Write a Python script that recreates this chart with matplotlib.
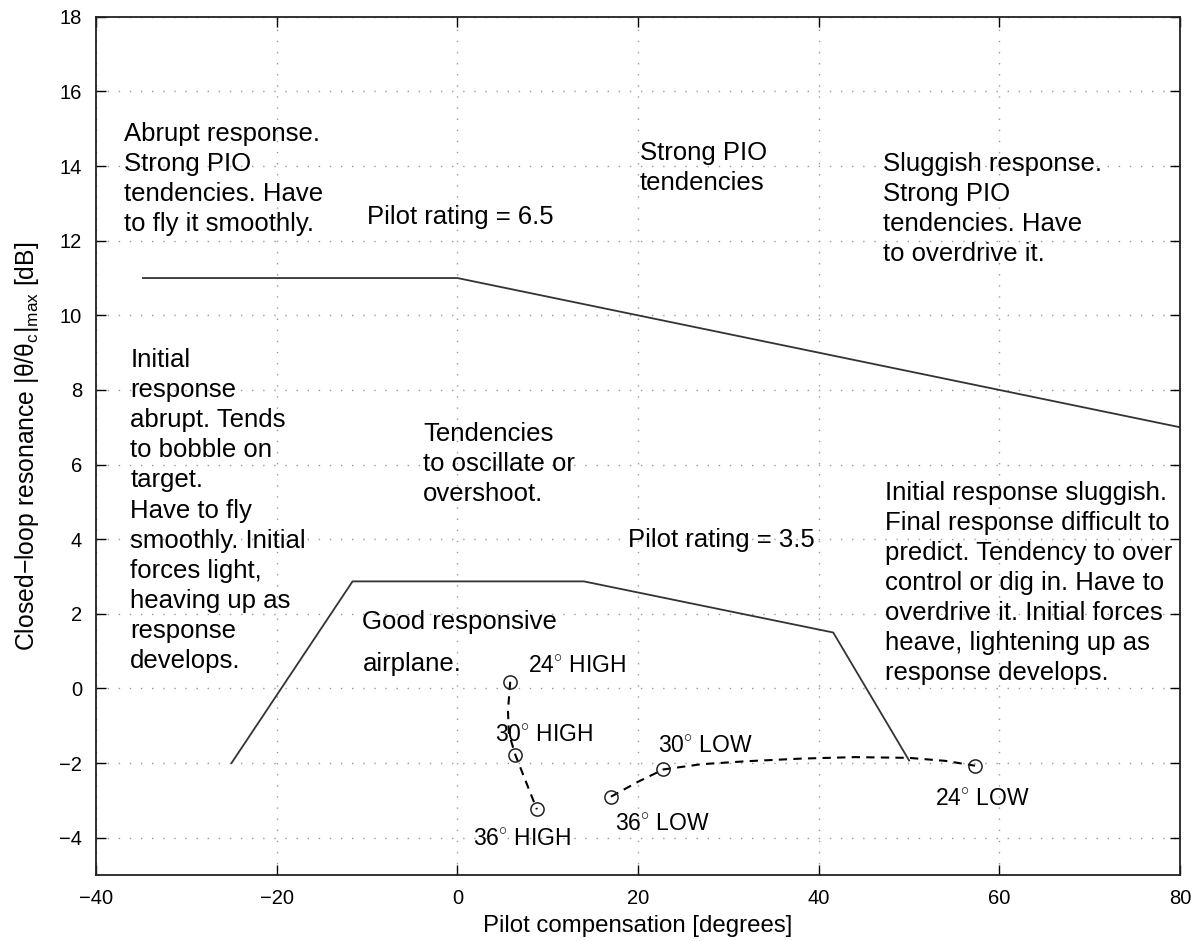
import matplotlib
matplotlib.use("Agg")
import matplotlib.pyplot as plt

plt.rcParams['font.family'] = ['Liberation Sans', 'DejaVu Sans']
plt.rcParams['mathtext.fontset'] = 'custom'
plt.rcParams['mathtext.rm'] = 'Liberation Sans'
plt.rcParams['mathtext.it'] = 'Liberation Sans:italic'

# boundary lines
pr65_x = [-34.8, 0, 80]
pr65_y = [11, 11, 7]
pr35_x = [-25, -11.6, 14, 41.6, 50]
pr35_y = [-2, 2.87, 2.87, 1.5, -1.93]

# configurations (circles)
high_names = ['24', '30', '36']
high_x = [5.85, 6.4, 8.8]
high_y = [0.18, -1.77, -3.24]
low_names = ['36', '30', '24']
low_x = [17.0, 22.8, 57.3]
low_y = [-2.9, -2.17, -2.07]

# dashed trend curves
high_curve_x = [5.85, 5.6, 5.7, 6.4, 8.8]
high_curve_y = [0.18, -0.6, -1.2, -1.77, -3.24]
low_curve_x = [17.0, 20.0, 22.8, 27.0, 32.0, 38.0, 44.0, 50.0, 54.0, 57.3]
low_curve_y = [-2.9, -2.5, -2.17, -2.03, -1.95, -1.88, -1.84, -1.86, -1.94, -2.07]

fig = plt.figure(figsize=(12.04, 9.41), dpi=100)
ax = fig.add_axes([0.0797, 0.0701, 0.9005, 0.912])

ax.plot(pr65_x, pr65_y, color='#333333', lw=1.3)
ax.plot(pr35_x, pr35_y, color='#333333', lw=1.3)
ax.plot(high_curve_x, high_curve_y, color='black', lw=1.5, ls=(0, (4, 3)))
ax.plot(low_curve_x, low_curve_y, color='black', lw=1.5, ls=(0, (4, 3)))
ax.plot(high_x, high_y, 'o', ms=9.5, mfc='none', mec='#222222', mew=1.1)
ax.plot(low_x, low_y, 'o', ms=9.5, mfc='none', mec='#222222', mew=1.1)

ax.set_xlim(-40, 80)
ax.set_ylim(-5, 18)
ax.set_xticks(range(-40, 81, 20))
ax.set_yticks(range(-4, 19, 2))
ax.grid(True, color='#999999', ls=(0, (1, 7)), lw=1)
ax.tick_params(direction='in', length=7, width=1, labelsize=14.5,
               top=True, right=True, pad=10)
for s in ax.spines.values():
    s.set_linewidth(1.3)
    s.set_color('#222222')

ax.set_xlabel('Pilot compensation [degrees]', fontsize=17.3, labelpad=5)
ax.set_ylabel(r'Closed$-$loop resonance |θ/θ$_{\rm c}$|$_{\rm max}$ [dB]',
              fontsize=17.8)
ax.yaxis.set_label_coords(-0.051, 0.5)

# multi-line notes: y is the baseline of the last line
fs = 18.5
txt = dict(fontsize=fs, linespacing=1.32, ha='left', va='baseline')
ax.text(-36.9, 12.26, 'Abrupt response.\nStrong PIO\ntendencies. Have\nto fly it smoothly.', **txt)
ax.text(20.2, 13.35, 'Strong PIO\ntendencies', **txt)
ax.text(47.1, 11.45, 'Sluggish response.\nStrong PIO\ntendencies. Have\nto overdrive it.', **txt)
ax.text(-10.0, 12.45, 'Pilot rating = 6.5', **txt)
ax.text(-36.2, 0.55, 'Initial\nresponse\nabrupt. Tends\nto bobble on\ntarget.\nHave to fly\n'
        'smoothly. Initial\nforces light,\nheaving up as\nresponse\ndevelops.', **txt)
ax.text(-3.8, 5.03, 'Tendencies\nto oscillate or\novershoot.', **txt)
ax.text(18.9, 3.79, 'Pilot rating = 3.5', **txt)
ax.text(47.3, 0.225, 'Initial response sluggish.\nFinal response difficult to\npredict. Tendency to over\n'
        'control or dig in. Have to\noverdrive it. Initial forces\nheave, lightening up as\n'
        'response develops.', **txt)
ax.text(-10.5, 1.59, 'Good responsive', **txt)
ax.text(-10.5, 0.47, 'airplane.', **txt)

lab = dict(fontsize=16.5, ha='left', va='baseline')
ax.text(7.8, 0.44, high_names[0] + r'$^{\circ}$ HIGH', **lab)
ax.text(4.2, -1.41, high_names[1] + r'$^{\circ}$ HIGH', **lab)
ax.text(1.7, -4.2, high_names[2] + r'$^{\circ}$ HIGH', **lab)
ax.text(17.5, -3.8, low_names[0] + r'$^{\circ}$ LOW', **lab)
ax.text(22.2, -1.7, low_names[1] + r'$^{\circ}$ LOW', **lab)
ax.text(52.9, -3.13, low_names[2] + r'$^{\circ}$ LOW', **lab)

fig.savefig('out.png', dpi=100)
